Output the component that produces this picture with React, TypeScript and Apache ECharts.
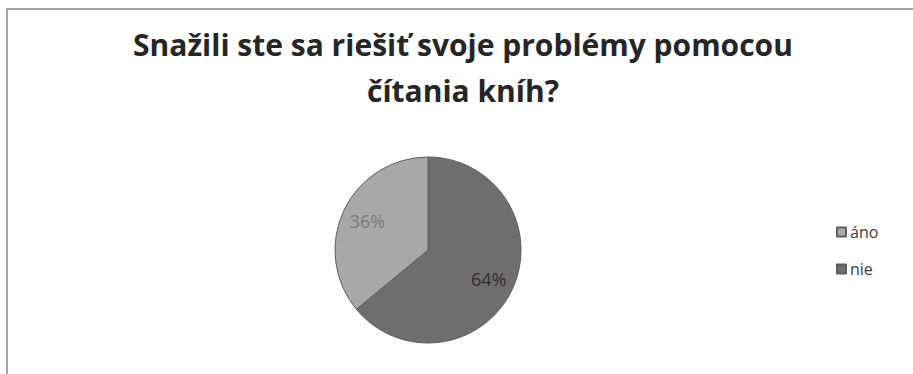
import React, { useEffect, useRef } from "react";
import * as echarts from "echarts";

const titleLines = ["Snažili ste sa riešiť svoje problémy pomocou", "čítania kníh?"];
const categories = ["nie", "áno"];
const values = [64, 36];
const legendOrder = ["áno", "nie"];
const sliceColors: Record<string, string> = { "áno": "#a8a8a8", "nie": "#6e6e6e" };
const labelColors: Record<string, string> = { "áno": "#7a7a7a", "nie": "#2e2e2e" };

export default function App() {
  const ref = useRef<HTMLDivElement>(null);
  useEffect(() => {
    if (!ref.current) return;
    const chart = echarts.init(ref.current, null, { renderer: "svg" });
    const data = categories.map((c, i) => ({
      name: c,
      value: values[i],
      itemStyle: { color: sliceColors[c] },
    }));
    const labelData = categories.map((c, i) => ({
      name: c,
      value: values[i],
      label: { color: labelColors[c] },
    }));
    chart.setOption({
      animation: false,
      backgroundColor: "#ffffff",
      title: {
        text: titleLines.join("\n"),
        left: 458,
        textAlign: "center",
        top: 16,
        textStyle: {
          fontFamily: "Open Sans",
          fontWeight: "bold",
          fontSize: 30,
          lineHeight: 46,
          color: "#262626",
        },
      },
      legend: {
        orient: "vertical",
        left: 831,
        top: 219,
        data: legendOrder,
        itemWidth: 9,
        itemHeight: 9,
        itemGap: 21,
        icon: "rect",
        textStyle: { fontFamily: "Open Sans", fontSize: 16, color: "#404040", padding: [0, 0, 0, -1] },
      },
      graphic: [
        {
          type: "rect",
          shape: { x: 7, y: 9, width: 930, height: 420 },
          style: { fill: "none", stroke: "#a3a3a3", lineWidth: 2 },
          silent: true,
        },
      ],
      series: [
        {
          type: "pie",
          center: [428, 250],
          radius: [0, 93],
          startAngle: 90,
          clockwise: true,
          data,
          label: { show: false },
          labelLine: { show: false },
          itemStyle: { borderColor: "#5e5e5e", borderWidth: 1 },
          silent: true,
        },
        {
          type: "pie",
          center: [428, 250],
          radius: [36, 92],
          startAngle: 90,
          clockwise: true,
          data: labelData,
          itemStyle: { color: "rgba(0,0,0,0)" },
          label: {
            show: true,
            position: "inside",
            formatter: "{d}%",
            fontFamily: "Open Sans",
            fontSize: 18,
          },
          labelLine: { show: false },
          legendHoverLink: false,
          silent: true,
          tooltip: { show: false },
        },
      ],
    });
    return () => chart.dispose();
  }, []);
  return (
    <div
      ref={ref}
      style={{ position: "fixed", left: 0, top: 0, width: 913, height: 374 }}
    />
  );
}
